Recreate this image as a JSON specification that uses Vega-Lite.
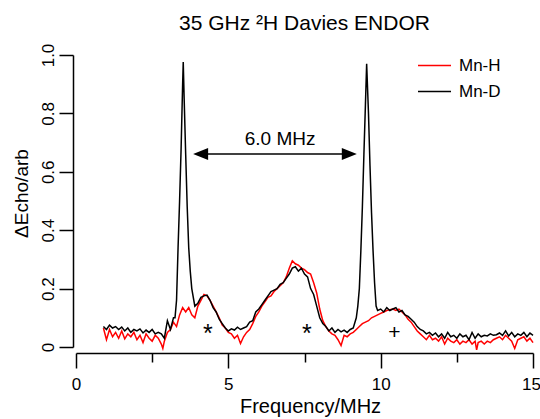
{
  "$schema": "https://vega.github.io/schema/vega-lite/v6.json",
  "width": 457,
  "height": 292,
  "autosize": "none",
  "padding": {"left": 76, "top": 55, "right": 7, "bottom": 72},
  "background": "white",
  "config": {"view": {"stroke": null}, "font": "Liberation Sans"},
  "title": {"text": "35 GHz ²H Davies ENDOR", "fontSize": 21, "fontWeight": "normal", "color": "black", "frame": "group", "anchor": "middle", "offset": -8, "baseline": "alphabetic", "font": "Liberation Sans"},
  "layer": [
    {
      "data": {"values": [
        {"sample":"Mn-H","freq":0.9,"echo":0.065},{"sample":"Mn-H","freq":1.0,"echo":0.025},{"sample":"Mn-H","freq":1.1,"echo":0.06},{"sample":"Mn-H","freq":1.2,"echo":0.035},{"sample":"Mn-H","freq":1.3,"echo":0.05},{"sample":"Mn-H","freq":1.4,"echo":0.03},{"sample":"Mn-H","freq":1.5,"echo":0.055},{"sample":"Mn-H","freq":1.6,"echo":0.028},{"sample":"Mn-H","freq":1.7,"echo":0.045},{"sample":"Mn-H","freq":1.8,"echo":0.035},{"sample":"Mn-H","freq":1.9,"echo":0.05},{"sample":"Mn-H","freq":2.0,"echo":0.025},{"sample":"Mn-H","freq":2.1,"echo":0.04},{"sample":"Mn-H","freq":2.2,"echo":0.015},{"sample":"Mn-H","freq":2.3,"echo":0.045},{"sample":"Mn-H","freq":2.4,"echo":0.03},{"sample":"Mn-H","freq":2.5,"echo":0.02},{"sample":"Mn-H","freq":2.6,"echo":0.04},{"sample":"Mn-H","freq":2.7,"echo":0.03},{"sample":"Mn-H","freq":2.8,"echo":0.01},{"sample":"Mn-H","freq":2.85,"echo":-0.005},{"sample":"Mn-H","freq":2.9,"echo":0.02},{"sample":"Mn-H","freq":3.0,"echo":0.05},{"sample":"Mn-H","freq":3.1,"echo":0.06},{"sample":"Mn-H","freq":3.2,"echo":0.085},{"sample":"Mn-H","freq":3.3,"echo":0.07},{"sample":"Mn-H","freq":3.4,"echo":0.11},{"sample":"Mn-H","freq":3.5,"echo":0.135},{"sample":"Mn-H","freq":3.6,"echo":0.12},{"sample":"Mn-H","freq":3.7,"echo":0.135},{"sample":"Mn-H","freq":3.8,"echo":0.11},{"sample":"Mn-H","freq":3.9,"echo":0.1},{"sample":"Mn-H","freq":4.0,"echo":0.14},{"sample":"Mn-H","freq":4.1,"echo":0.16},{"sample":"Mn-H","freq":4.2,"echo":0.18},{"sample":"Mn-H","freq":4.3,"echo":0.175},{"sample":"Mn-H","freq":4.4,"echo":0.16},{"sample":"Mn-H","freq":4.5,"echo":0.14},{"sample":"Mn-H","freq":4.6,"echo":0.12},{"sample":"Mn-H","freq":4.7,"echo":0.1},{"sample":"Mn-H","freq":4.8,"echo":0.075},{"sample":"Mn-H","freq":4.9,"echo":0.065},{"sample":"Mn-H","freq":5.0,"echo":0.05},{"sample":"Mn-H","freq":5.1,"echo":0.045},{"sample":"Mn-H","freq":5.2,"echo":0.03},{"sample":"Mn-H","freq":5.3,"echo":0.04},{"sample":"Mn-H","freq":5.4,"echo":0.012},{"sample":"Mn-H","freq":5.5,"echo":0.035},{"sample":"Mn-H","freq":5.6,"echo":0.05},{"sample":"Mn-H","freq":5.7,"echo":0.06},{"sample":"Mn-H","freq":5.8,"echo":0.08},{"sample":"Mn-H","freq":5.9,"echo":0.105},{"sample":"Mn-H","freq":6.0,"echo":0.12},{"sample":"Mn-H","freq":6.1,"echo":0.14},{"sample":"Mn-H","freq":6.2,"echo":0.155},{"sample":"Mn-H","freq":6.3,"echo":0.17},{"sample":"Mn-H","freq":6.4,"echo":0.175},{"sample":"Mn-H","freq":6.5,"echo":0.19},{"sample":"Mn-H","freq":6.6,"echo":0.2},{"sample":"Mn-H","freq":6.7,"echo":0.21},{"sample":"Mn-H","freq":6.8,"echo":0.22},{"sample":"Mn-H","freq":6.9,"echo":0.24},{"sample":"Mn-H","freq":7.0,"echo":0.27},{"sample":"Mn-H","freq":7.1,"echo":0.295},{"sample":"Mn-H","freq":7.2,"echo":0.285},{"sample":"Mn-H","freq":7.3,"echo":0.28},{"sample":"Mn-H","freq":7.4,"echo":0.27},{"sample":"Mn-H","freq":7.5,"echo":0.265},{"sample":"Mn-H","freq":7.6,"echo":0.255},{"sample":"Mn-H","freq":7.7,"echo":0.25},{"sample":"Mn-H","freq":7.8,"echo":0.22},{"sample":"Mn-H","freq":7.9,"echo":0.185},{"sample":"Mn-H","freq":8.0,"echo":0.13},{"sample":"Mn-H","freq":8.1,"echo":0.09},{"sample":"Mn-H","freq":8.2,"echo":0.07},{"sample":"Mn-H","freq":8.3,"echo":0.055},{"sample":"Mn-H","freq":8.4,"echo":0.045},{"sample":"Mn-H","freq":8.5,"echo":0.04},{"sample":"Mn-H","freq":8.6,"echo":0.025},{"sample":"Mn-H","freq":8.7,"echo":0.005},{"sample":"Mn-H","freq":8.8,"echo":0.04},{"sample":"Mn-H","freq":8.9,"echo":0.035},{"sample":"Mn-H","freq":9.0,"echo":0.045},{"sample":"Mn-H","freq":9.1,"echo":0.05},{"sample":"Mn-H","freq":9.2,"echo":0.06},{"sample":"Mn-H","freq":9.3,"echo":0.07},{"sample":"Mn-H","freq":9.4,"echo":0.08},{"sample":"Mn-H","freq":9.5,"echo":0.085},{"sample":"Mn-H","freq":9.6,"echo":0.09},{"sample":"Mn-H","freq":9.7,"echo":0.1},{"sample":"Mn-H","freq":9.8,"echo":0.105},{"sample":"Mn-H","freq":9.9,"echo":0.11},{"sample":"Mn-H","freq":10.0,"echo":0.115},{"sample":"Mn-H","freq":10.1,"echo":0.12},{"sample":"Mn-H","freq":10.2,"echo":0.125},{"sample":"Mn-H","freq":10.3,"echo":0.128},{"sample":"Mn-H","freq":10.4,"echo":0.13},{"sample":"Mn-H","freq":10.5,"echo":0.125},{"sample":"Mn-H","freq":10.6,"echo":0.13},{"sample":"Mn-H","freq":10.7,"echo":0.12},{"sample":"Mn-H","freq":10.8,"echo":0.11},{"sample":"Mn-H","freq":10.9,"echo":0.095},{"sample":"Mn-H","freq":11.0,"echo":0.085},{"sample":"Mn-H","freq":11.1,"echo":0.07},{"sample":"Mn-H","freq":11.2,"echo":0.055},{"sample":"Mn-H","freq":11.3,"echo":0.045},{"sample":"Mn-H","freq":11.4,"echo":0.035},{"sample":"Mn-H","freq":11.5,"echo":0.025},{"sample":"Mn-H","freq":11.6,"echo":0.04},{"sample":"Mn-H","freq":11.7,"echo":0.025},{"sample":"Mn-H","freq":11.8,"echo":0.03},{"sample":"Mn-H","freq":11.9,"echo":0.02},{"sample":"Mn-H","freq":12.0,"echo":0.035},{"sample":"Mn-H","freq":12.1,"echo":0.01},{"sample":"Mn-H","freq":12.2,"echo":0.03},{"sample":"Mn-H","freq":12.3,"echo":0.02},{"sample":"Mn-H","freq":12.4,"echo":0.015},{"sample":"Mn-H","freq":12.5,"echo":0.025},{"sample":"Mn-H","freq":12.6,"echo":0.01},{"sample":"Mn-H","freq":12.7,"echo":0.02},{"sample":"Mn-H","freq":12.8,"echo":0.015},{"sample":"Mn-H","freq":12.9,"echo":0.025},{"sample":"Mn-H","freq":13.0,"echo":0.01},{"sample":"Mn-H","freq":13.1,"echo":0.02},{"sample":"Mn-H","freq":13.15,"echo":-0.01},{"sample":"Mn-H","freq":13.2,"echo":0.015},{"sample":"Mn-H","freq":13.3,"echo":0.02},{"sample":"Mn-H","freq":13.4,"echo":0.01},{"sample":"Mn-H","freq":13.5,"echo":0.02},{"sample":"Mn-H","freq":13.6,"echo":0.015},{"sample":"Mn-H","freq":13.7,"echo":0.025},{"sample":"Mn-H","freq":13.8,"echo":0.03},{"sample":"Mn-H","freq":13.9,"echo":0.035},{"sample":"Mn-H","freq":14.0,"echo":0.025},{"sample":"Mn-H","freq":14.1,"echo":0.04},{"sample":"Mn-H","freq":14.2,"echo":0.03},{"sample":"Mn-H","freq":14.3,"echo":0.02},{"sample":"Mn-H","freq":14.4,"echo":-0.005},{"sample":"Mn-H","freq":14.5,"echo":0.025},{"sample":"Mn-H","freq":14.6,"echo":0.03},{"sample":"Mn-H","freq":14.7,"echo":0.035},{"sample":"Mn-H","freq":14.8,"echo":0.02},{"sample":"Mn-H","freq":14.9,"echo":0.03},{"sample":"Mn-H","freq":15.0,"echo":0.015},
        {"sample":"Mn-D","freq":0.9,"echo":0.07},{"sample":"Mn-D","freq":1.0,"echo":0.06},{"sample":"Mn-D","freq":1.1,"echo":0.075},{"sample":"Mn-D","freq":1.2,"echo":0.065},{"sample":"Mn-D","freq":1.3,"echo":0.07},{"sample":"Mn-D","freq":1.4,"echo":0.06},{"sample":"Mn-D","freq":1.5,"echo":0.068},{"sample":"Mn-D","freq":1.6,"echo":0.055},{"sample":"Mn-D","freq":1.7,"echo":0.065},{"sample":"Mn-D","freq":1.8,"echo":0.05},{"sample":"Mn-D","freq":1.9,"echo":0.06},{"sample":"Mn-D","freq":2.0,"echo":0.055},{"sample":"Mn-D","freq":2.1,"echo":0.062},{"sample":"Mn-D","freq":2.2,"echo":0.048},{"sample":"Mn-D","freq":2.3,"echo":0.058},{"sample":"Mn-D","freq":2.4,"echo":0.05},{"sample":"Mn-D","freq":2.5,"echo":0.06},{"sample":"Mn-D","freq":2.6,"echo":0.045},{"sample":"Mn-D","freq":2.7,"echo":0.05},{"sample":"Mn-D","freq":2.8,"echo":0.045},{"sample":"Mn-D","freq":2.9,"echo":0.03},{"sample":"Mn-D","freq":3.0,"echo":0.09},{"sample":"Mn-D","freq":3.1,"echo":0.06},{"sample":"Mn-D","freq":3.2,"echo":0.1},{"sample":"Mn-D","freq":3.25,"echo":0.1},{"sample":"Mn-D","freq":3.3,"echo":0.16},{"sample":"Mn-D","freq":3.35,"echo":0.34},{"sample":"Mn-D","freq":3.4,"echo":0.5},{"sample":"Mn-D","freq":3.45,"echo":0.68},{"sample":"Mn-D","freq":3.5,"echo":0.9},{"sample":"Mn-D","freq":3.52,"echo":0.976},{"sample":"Mn-D","freq":3.55,"echo":0.85},{"sample":"Mn-D","freq":3.6,"echo":0.66},{"sample":"Mn-D","freq":3.65,"echo":0.48},{"sample":"Mn-D","freq":3.7,"echo":0.34},{"sample":"Mn-D","freq":3.75,"echo":0.26},{"sample":"Mn-D","freq":3.8,"echo":0.2},{"sample":"Mn-D","freq":3.9,"echo":0.14},{"sample":"Mn-D","freq":4.0,"echo":0.15},{"sample":"Mn-D","freq":4.1,"echo":0.17},{"sample":"Mn-D","freq":4.2,"echo":0.175},{"sample":"Mn-D","freq":4.3,"echo":0.178},{"sample":"Mn-D","freq":4.4,"echo":0.16},{"sample":"Mn-D","freq":4.5,"echo":0.135},{"sample":"Mn-D","freq":4.6,"echo":0.12},{"sample":"Mn-D","freq":4.7,"echo":0.095},{"sample":"Mn-D","freq":4.8,"echo":0.08},{"sample":"Mn-D","freq":4.9,"echo":0.065},{"sample":"Mn-D","freq":5.0,"echo":0.055},{"sample":"Mn-D","freq":5.1,"echo":0.062},{"sample":"Mn-D","freq":5.2,"echo":0.058},{"sample":"Mn-D","freq":5.3,"echo":0.068},{"sample":"Mn-D","freq":5.4,"echo":0.06},{"sample":"Mn-D","freq":5.5,"echo":0.065},{"sample":"Mn-D","freq":5.6,"echo":0.07},{"sample":"Mn-D","freq":5.7,"echo":0.085},{"sample":"Mn-D","freq":5.8,"echo":0.09},{"sample":"Mn-D","freq":5.9,"echo":0.12},{"sample":"Mn-D","freq":6.0,"echo":0.13},{"sample":"Mn-D","freq":6.1,"echo":0.145},{"sample":"Mn-D","freq":6.2,"echo":0.16},{"sample":"Mn-D","freq":6.3,"echo":0.175},{"sample":"Mn-D","freq":6.4,"echo":0.19},{"sample":"Mn-D","freq":6.5,"echo":0.195},{"sample":"Mn-D","freq":6.6,"echo":0.2},{"sample":"Mn-D","freq":6.7,"echo":0.215},{"sample":"Mn-D","freq":6.8,"echo":0.22},{"sample":"Mn-D","freq":6.9,"echo":0.235},{"sample":"Mn-D","freq":7.0,"echo":0.25},{"sample":"Mn-D","freq":7.1,"echo":0.27},{"sample":"Mn-D","freq":7.2,"echo":0.275},{"sample":"Mn-D","freq":7.3,"echo":0.26},{"sample":"Mn-D","freq":7.4,"echo":0.27},{"sample":"Mn-D","freq":7.5,"echo":0.25},{"sample":"Mn-D","freq":7.6,"echo":0.24},{"sample":"Mn-D","freq":7.7,"echo":0.2},{"sample":"Mn-D","freq":7.8,"echo":0.18},{"sample":"Mn-D","freq":7.9,"echo":0.14},{"sample":"Mn-D","freq":8.0,"echo":0.1},{"sample":"Mn-D","freq":8.1,"echo":0.08},{"sample":"Mn-D","freq":8.2,"echo":0.07},{"sample":"Mn-D","freq":8.3,"echo":0.055},{"sample":"Mn-D","freq":8.4,"echo":0.065},{"sample":"Mn-D","freq":8.5,"echo":0.05},{"sample":"Mn-D","freq":8.6,"echo":0.06},{"sample":"Mn-D","freq":8.7,"echo":0.052},{"sample":"Mn-D","freq":8.8,"echo":0.058},{"sample":"Mn-D","freq":8.9,"echo":0.05},{"sample":"Mn-D","freq":9.0,"echo":0.06},{"sample":"Mn-D","freq":9.1,"echo":0.065},{"sample":"Mn-D","freq":9.2,"echo":0.1},{"sample":"Mn-D","freq":9.25,"echo":0.14},{"sample":"Mn-D","freq":9.3,"echo":0.2},{"sample":"Mn-D","freq":9.35,"echo":0.33},{"sample":"Mn-D","freq":9.4,"echo":0.48},{"sample":"Mn-D","freq":9.45,"echo":0.66},{"sample":"Mn-D","freq":9.5,"echo":0.83},{"sample":"Mn-D","freq":9.54,"echo":0.97},{"sample":"Mn-D","freq":9.6,"echo":0.8},{"sample":"Mn-D","freq":9.65,"echo":0.62},{"sample":"Mn-D","freq":9.7,"echo":0.46},{"sample":"Mn-D","freq":9.75,"echo":0.33},{"sample":"Mn-D","freq":9.8,"echo":0.22},{"sample":"Mn-D","freq":9.85,"echo":0.14},{"sample":"Mn-D","freq":9.9,"echo":0.125},{"sample":"Mn-D","freq":10.0,"echo":0.13},{"sample":"Mn-D","freq":10.1,"echo":0.12},{"sample":"Mn-D","freq":10.2,"echo":0.135},{"sample":"Mn-D","freq":10.3,"echo":0.125},{"sample":"Mn-D","freq":10.4,"echo":0.13},{"sample":"Mn-D","freq":10.5,"echo":0.135},{"sample":"Mn-D","freq":10.6,"echo":0.12},{"sample":"Mn-D","freq":10.7,"echo":0.125},{"sample":"Mn-D","freq":10.8,"echo":0.11},{"sample":"Mn-D","freq":10.9,"echo":0.105},{"sample":"Mn-D","freq":11.0,"echo":0.095},{"sample":"Mn-D","freq":11.1,"echo":0.085},{"sample":"Mn-D","freq":11.2,"echo":0.07},{"sample":"Mn-D","freq":11.3,"echo":0.06},{"sample":"Mn-D","freq":11.4,"echo":0.055},{"sample":"Mn-D","freq":11.5,"echo":0.045},{"sample":"Mn-D","freq":11.6,"echo":0.05},{"sample":"Mn-D","freq":11.7,"echo":0.04},{"sample":"Mn-D","freq":11.8,"echo":0.048},{"sample":"Mn-D","freq":11.9,"echo":0.035},{"sample":"Mn-D","freq":12.0,"echo":0.045},{"sample":"Mn-D","freq":12.1,"echo":0.03},{"sample":"Mn-D","freq":12.2,"echo":0.05},{"sample":"Mn-D","freq":12.3,"echo":0.035},{"sample":"Mn-D","freq":12.4,"echo":0.04},{"sample":"Mn-D","freq":12.5,"echo":0.03},{"sample":"Mn-D","freq":12.6,"echo":0.045},{"sample":"Mn-D","freq":12.7,"echo":0.035},{"sample":"Mn-D","freq":12.8,"echo":0.04},{"sample":"Mn-D","freq":12.9,"echo":0.025},{"sample":"Mn-D","freq":13.0,"echo":0.05},{"sample":"Mn-D","freq":13.1,"echo":0.03},{"sample":"Mn-D","freq":13.2,"echo":0.045},{"sample":"Mn-D","freq":13.3,"echo":0.035},{"sample":"Mn-D","freq":13.4,"echo":0.04},{"sample":"Mn-D","freq":13.5,"echo":0.038},{"sample":"Mn-D","freq":13.6,"echo":0.045},{"sample":"Mn-D","freq":13.7,"echo":0.04},{"sample":"Mn-D","freq":13.8,"echo":0.042},{"sample":"Mn-D","freq":13.9,"echo":0.048},{"sample":"Mn-D","freq":14.0,"echo":0.04},{"sample":"Mn-D","freq":14.1,"echo":0.055},{"sample":"Mn-D","freq":14.2,"echo":0.038},{"sample":"Mn-D","freq":14.3,"echo":0.05},{"sample":"Mn-D","freq":14.4,"echo":0.035},{"sample":"Mn-D","freq":14.5,"echo":0.045},{"sample":"Mn-D","freq":14.6,"echo":0.04},{"sample":"Mn-D","freq":14.7,"echo":0.05},{"sample":"Mn-D","freq":14.8,"echo":0.035},{"sample":"Mn-D","freq":14.9,"echo":0.048},{"sample":"Mn-D","freq":15.0,"echo":0.04}
      ]},
      "mark": {"type": "line", "strokeWidth": 1.5},
      "encoding": {
        "x": {"field": "freq", "type": "quantitative", "scale": {"domain": [0, 15], "nice": false, "zero": false},
          "axis": {"title": "Frequency/MHz", "values": [0, 2.5, 5, 7.5, 10, 12.5, 15], "labelExpr": "datum.value % 5 === 0 ? datum.label : ''",
            "offset": 6, "tickSize": {"condition": {"test": "datum.value % 5 === 0", "value": 15}, "value": 9},
            "labelOffset": {"condition": {"test": "datum.value === 15", "value": -2}, "value": 0},
            "labelPadding": 8, "labelFontSize": 17, "labelFlush": false, "labelOverlap": false, "titleFontSize": 20, "titleFontWeight": "normal", "titlePadding": 4,
            "domainColor": "black", "tickColor": "black", "labelColor": "black", "titleColor": "black", "domainWidth": 1.5, "tickWidth": 1.5, "grid": false, "titleX": 234}},
        "y": {"field": "echo", "type": "quantitative", "scale": {"domain": [0, 1], "nice": false},
          "axis": {"title": "ΔEcho/arb", "values": [0, 0.1, 0.2, 0.3, 0.4, 0.5, 0.6, 0.7, 0.8, 0.9, 1.0],
            "labelExpr": "datum.value === 0 ? '0' : (round(datum.value * 10) % 2 === 0 ? format(datum.value, '.1f') : '')",
            "offset": 3, "tickSize": 14, "labelAngle": -90, "labelAlign": "center", "labelBaseline": "bottom", "labelPadding": 2,
            "labelFontSize": 17, "labelFlush": false, "labelOverlap": false, "titleFontSize": 19, "titleFontWeight": "normal", "titlePadding": 8, "titleY": 138,
            "domainColor": "black", "tickColor": "black", "labelColor": "black", "titleColor": "black", "domainWidth": 1.5, "tickWidth": 1.5, "grid": false}},
        "color": {"field": "sample", "type": "nominal", "scale": {"domain": ["Mn-H", "Mn-D"], "range": ["#ff0000", "#000000"]},
          "legend": {"title": null, "orient": "none", "legendX": 341, "legendY": -7, "symbolType": "stroke", "symbolSize": 1089, "symbolStrokeWidth": 1.4,
            "labelFontSize": 17, "labelColor": "black", "labelOffset": 7, "rowPadding": -2, "padding": 0}}
      }
    },
    {
      "data": {"values": [{"start": 4.0, "end": 9.1, "level": 0.661}]},
      "mark": {"type": "rule", "color": "black", "strokeWidth": 1.5},
      "encoding": {"x": {"field": "start", "type": "quantitative"}, "x2": {"field": "end"}, "y": {"field": "level", "type": "quantitative"}}
    },
    {
      "data": {"values": [{"pos": 4.09, "level": 0.661}]},
      "mark": {"type": "point", "shape": "M-1,0 L1,-0.8 L1,0.8 Z", "filled": true, "color": "black", "opacity": 1, "size": 225},
      "encoding": {"x": {"field": "pos", "type": "quantitative"}, "y": {"field": "level", "type": "quantitative"}}
    },
    {
      "data": {"values": [{"pos": 8.97, "level": 0.661}]},
      "mark": {"type": "point", "shape": "M1,0 L-1,-0.8 L-1,0.8 Z", "filled": true, "color": "black", "opacity": 1, "size": 225},
      "encoding": {"x": {"field": "pos", "type": "quantitative"}, "y": {"field": "level", "type": "quantitative"}}
    },
    {
      "data": {"values": [{"pos": 6.7, "level": 0.692, "label": "6.0 MHz"}]},
      "mark": {"type": "text", "fontSize": 19, "color": "black", "align": "center", "baseline": "alphabetic"},
      "encoding": {"x": {"field": "pos", "type": "quantitative"}, "y": {"field": "level", "type": "quantitative"}, "text": {"field": "label"}}
    },
    {
      "data": {"values": [{"pos": 4.33, "level": 0.018, "label": "*"}, {"pos": 7.58, "level": 0.018, "label": "*"}]},
      "mark": {"type": "text", "fontSize": 25, "color": "black", "align": "center", "baseline": "alphabetic"},
      "encoding": {"x": {"field": "pos", "type": "quantitative"}, "y": {"field": "level", "type": "quantitative"}, "text": {"field": "label"}}
    },
    {
      "data": {"values": [{"pos": 10.45, "level": 0.029, "label": "+"}]},
      "mark": {"type": "text", "fontSize": 21, "color": "black", "align": "center", "baseline": "alphabetic"},
      "encoding": {"x": {"field": "pos", "type": "quantitative"}, "y": {"field": "level", "type": "quantitative"}, "text": {"field": "label"}}
    }
  ]
}
